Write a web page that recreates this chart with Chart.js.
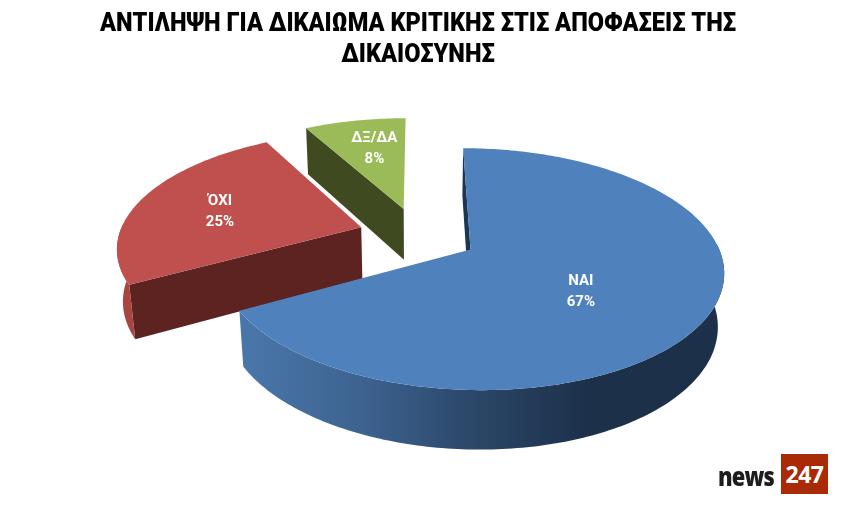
<!DOCTYPE html>
<html>
<head>
<meta charset="utf-8">
<script src="https://cdn.jsdelivr.net/npm/chart.js@4"></script>
<style>
body { margin: 0; background: #fff; overflow: hidden; }
#wrap { position: relative; width: 841px; height: 509px; }
#logo-news { position: absolute; left: 718px; top: 461px; font: 800 26px/30px "Open Sans"; letter-spacing: -1px; color: #1d1d1b; transform: scaleX(0.84); transform-origin: left; }
#logo-num { position: absolute; left: 781px; top: 454px; width: 47px; height: 40px; background: #a92a06; color: #fff; font: 700 23px/40px "Open Sans"; text-align: center; letter-spacing: -0.5px; }
</style>
</head>
<body>
<div id="wrap">
  <canvas id="grafico" width="841" height="509"></canvas>
  <div id="logo-news">news</div>
  <div id="logo-num">247</div>
</div>
<script>
// data
const categories = ['ΝΑΙ', 'ΌΧΙ', 'ΔΞ/ΔΑ'];
const values = [67, 25, 8];
const titleLines = ['ΑΝΤΙΛΗΨΗ ΓΙΑ ΔΙΚΑΙΩΜΑ ΚΡΙΤΙΚΗΣ ΣΤΙΣ ΑΠΟΦΑΣΕΙΣ ΤΗΣ', 'ΔΙΚΑΙΟΣΥΝΗΣ'];

// colours
const topColors = ['#4f81bd', '#c0504d', '#9bbb59'];
const wallColors = ['#1c3553', '#5c2321', '#3f4a21'];
const rimStops = [
    [[0, '#4a77ab'], [0.25, '#3d6390'], [0.5, '#2a4566'], [0.72, '#1c304a'], [1, '#1c304a']],
    [[0, '#a84541'], [1, '#a84541']],
    [[0, '#6f8740'], [1, '#6f8740']]
];

// where the text sits, from the slice tip, in radii
const labelShift = [[0.407, 0.349], [-0.607, -0.137], [-0.143, -0.617]];

// the tilted view: plane of the pie -> screen
const view = { sx: 2.43, sy: 1.13, k: 0.0016, m: 0.00002, depth: 53, shrink: 0.02 };

function project(arc, px, py, lower) {
    const w = 1 - view.k * py - view.m * px + (lower ? view.shrink : 0);
    return {
        x: arc.x + view.sx * px / w,
        y: arc.y + (view.sy * py + (lower ? view.depth : 0)) / w
    };
}

// plane point of a slice at angle a and distance rad
function planePoint(arc, a, rad) {
    const mid = (arc.startAngle + arc.endAngle) / 2;
    const off = arc.options.offset;
    return [Math.cos(mid) * off + Math.cos(a) * rad, Math.sin(mid) * off + Math.sin(a) * rad];
}

function tracePoints(ctx, pts) {
    pts.forEach((p, i) => { if (i === 0) ctx.moveTo(p.x, p.y); else ctx.lineTo(p.x, p.y); });
}

const pie3d = {
    id: 'pie3d',
    beforeDatasetsDraw(chart) {
        const ctx = chart.ctx;
        const arcs = chart.getDatasetMeta(0).data;
        // back slices first
        for (let i = arcs.length - 1; i >= 0; i--) {
            const arc = arcs[i];
            const R = arc.outerRadius;
            const tip = planePoint(arc, 0, 0);
            const steps = Math.ceil((arc.endAngle - arc.startAngle) * 180 / Math.PI);
            const upper = [], lower = [], rimUp = [], rimLow = [];
            for (let s = 0; s <= steps; s++) {
                const a = arc.startAngle + (arc.endAngle - arc.startAngle) * s / steps;
                const p = planePoint(arc, a, R);
                const up = project(arc, p[0], p[1], false);
                const low = project(arc, p[0], p[1], true);
                upper.push(up);
                lower.push(low);
                // only the part of the rim that faces the viewer
                if (Math.sin(a) > -0.05) { rimUp.push(up); rimLow.push(low); }
            }
            const tipUp = project(arc, tip[0], tip[1], false);
            const tipLow = project(arc, tip[0], tip[1], true);

            // cut wall on the side where the slice starts
            ctx.fillStyle = wallColors[i];
            ctx.beginPath();
            tracePoints(ctx, [tipUp, upper[0], lower[0], tipLow]);
            ctx.closePath();
            ctx.fill();

            // outer rim
            if (rimUp.length > 1) {
                const xs = rimUp.concat(rimLow).map(p => p.x);
                const grad = ctx.createLinearGradient(Math.min(...xs), 0, Math.max(...xs), 0);
                rimStops[i].forEach(st => grad.addColorStop(st[0], st[1]));
                ctx.fillStyle = grad;
                ctx.beginPath();
                tracePoints(ctx, rimUp.concat(rimLow.slice().reverse()));
                ctx.closePath();
                ctx.fill();
            }

            // top face
            ctx.fillStyle = topColors[i];
            ctx.beginPath();
            tracePoints(ctx, [tipUp].concat(upper));
            ctx.closePath();
            ctx.fill();
        }

        // labels
        ctx.fillStyle = '#fff';
        ctx.font = 'bold 15px Roboto';
        ctx.textAlign = 'center';
        ctx.textBaseline = 'middle';
        arcs.forEach((arc, i) => {
            const t = planePoint(arc, 0, 0);
            const R = arc.outerRadius;
            const c = project(arc, t[0] + labelShift[i][0] * R, t[1] + labelShift[i][1] * R, false);
            ctx.fillText(categories[i], c.x, c.y - 11.5);
            ctx.fillText(values[i] + '%', c.x, c.y + 9.5);
        });
        return false;
    },
    // title is narrower than any installed font, so it gets squeezed here
    afterDraw(chart) {
        const ctx = chart.ctx;
        ctx.save();
        ctx.font = '900 25px Roboto';
        ctx.fillStyle = '#000';
        ctx.textAlign = 'center';
        ctx.textBaseline = 'middle';
        const squeeze = 636 / ctx.measureText(titleLines[0]).width;
        ctx.translate(418, 0);
        ctx.scale(squeeze, 1);
        ctx.fillText(titleLines[0], 0, 24.5);
        ctx.fillText(titleLines[1], 0, 55.5);
        ctx.restore();
    }
};

new Chart(document.getElementById('grafico'), {
    type: 'pie',
    data: {
        labels: categories,
        datasets: [{
            data: values,
            backgroundColor: topColors,
            borderWidth: 0,
            offset: 24.6
        }]
    },
    options: {
        responsive: false,
        animation: false,
        rotation: 0,
        radius: 100,
        layout: { padding: { right: 5, bottom: 39 } },
        plugins: {
            legend: { display: false },
            tooltip: { enabled: false }
        }
    },
    plugins: [pie3d]
});
</script>
</body>
</html>
